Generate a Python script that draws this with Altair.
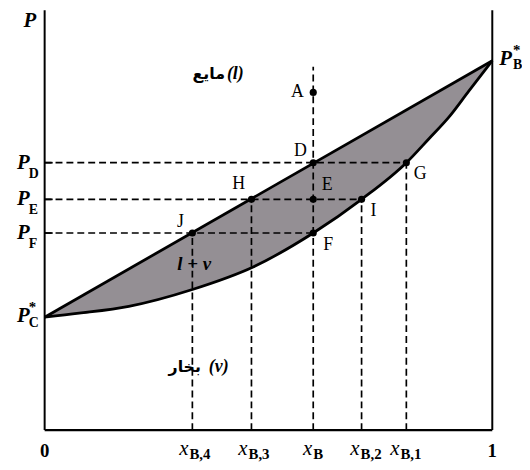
import altair as alt
import pandas as pd

# ---- values (x = mole fraction of B, P = pressure, arbitrary units) ----
P_TOP = 424
PC_STAR = 114
PB_STAR = 373

# liquid (bubble-point) line
liq_x = [0.0, 1.0]
liq_p = [PC_STAR, PB_STAR]

# vapour (dew-point) curve
vap_x = [0.0, 0.077, 0.188, 0.330, 0.467, 0.600, 0.708, 0.808, 0.858, 0.903, 0.947, 1.0]
vap_p = [114, 118, 125, 142, 165, 199, 233, 270, 294, 316, 342, 373]

# compositions on the x axis (vertical dashed lines)
comp_sub = ["B,4", "B,3", "B", "B,2", "B,1"]
comp_x = [0.330, 0.462, 0.600, 0.708, 0.808]
comp_top = [199, 233, 367, 233, 270]

# pressures on the y axis (horizontal dashed lines)
pres_sub = ["D", "E", "F"]
pres_p = [270, 233, 199]
pres_end = [0.808, 0.708, 0.600]

# marked points
pt_names = ["A", "D", "E", "F", "G", "H", "I", "J"]
pt_x = [0.600, 0.600, 0.600, 0.600, 0.808, 0.462, 0.708, 0.330]
pt_p = [341, 270, 233, 199, 270, 233, 233, 199]

SERIF = "Liberation Serif"
xs = alt.Scale(domain=[0, 1], nice=False, zero=False)
ys = alt.Scale(domain=[0, P_TOP], nice=False, zero=False)


def X(f="x"):
    return alt.X(f"{f}:Q", scale=xs, axis=None)


def Y(f="p"):
    return alt.Y(f"{f}:Q", scale=ys, axis=None)


def txt(x, p, text, dx=0, dy=0, size=18, style="normal", weight="normal",
        align="center", font=SERIF, baseline="alphabetic"):
    df = pd.DataFrame({"x": [x], "p": [p], "t": [text]})
    return alt.Chart(df).mark_text(
        dx=dx, dy=dy, fontSize=size, fontStyle=style, fontWeight=weight,
        align=align, font=font, baseline=baseline, color="black"
    ).encode(x=X(), y=Y(), text="t:N")


liq = pd.DataFrame({"x": liq_x, "p": liq_p})
vap = pd.DataFrame({"x": vap_x, "p": vap_p})

gray = alt.Chart(liq).mark_area(color="#948f94", opacity=1).encode(x=X(), y=Y())
white = alt.Chart(vap).mark_area(color="white", opacity=1, interpolate="monotone").encode(x=X(), y=Y())

vdf = pd.DataFrame({"x": comp_x, "p": [0] * len(comp_x), "p2": comp_top})
vlines = alt.Chart(vdf).mark_rule(color="black", strokeWidth=1.7, strokeDash=[7, 4]).encode(
    x=X(), y=Y(), y2="p2:Q")

hdf = pd.DataFrame({"x": [0] * len(pres_p), "x2": pres_end, "p": pres_p})
hlines = alt.Chart(hdf).mark_rule(color="black", strokeWidth=1.7, strokeDash=[7, 4]).encode(
    x=X(), x2="x2:Q", y=Y())
tdf = pd.DataFrame({"x": [0] * len(pres_p), "x2": [0.018] * len(pres_p), "p": pres_p})
ticks = alt.Chart(tdf).mark_rule(color="black", strokeWidth=1.7).encode(x=X(), x2="x2:Q", y=Y())

frame_v = pd.DataFrame({"x": [0, 1], "p": [0, 0], "p2": [P_TOP, P_TOP]})
fv = alt.Chart(frame_v).mark_rule(color="black", strokeWidth=2).encode(x=X(), y=Y(), y2="p2:Q")
frame_h = pd.DataFrame({"x": [0], "x2": [1], "p": [0]})
fh = alt.Chart(frame_h).mark_rule(color="black", strokeWidth=2.2).encode(x=X(), x2="x2:Q", y=Y())

liq_line = alt.Chart(liq).mark_line(color="black", strokeWidth=2.8).encode(x=X(), y=Y())
vap_line = alt.Chart(vap).mark_line(color="black", strokeWidth=2.8, interpolate="monotone").encode(x=X(), y=Y())

pts = pd.DataFrame({"x": pt_x, "p": pt_p, "n": pt_names})
dots = alt.Chart(pts).mark_circle(color="black", size=52, opacity=1).encode(x=X(), y=Y())

offsets = {"A": (-16, 0), "D": (-13, -12), "E": (14, -14), "F": (15, 12),
           "G": (14, 11), "H": (-13, -15), "I": (12, 12), "J": (-12, -11)}
layers = [gray, white, vlines, hlines, ticks, fv, fh, liq_line, vap_line, dots]

for n, x, p in zip(pt_names, pt_x, pt_p):
    dx, dy = offsets[n]
    layers.append(txt(x, p, n, dx=dx, dy=dy, size=18, baseline="middle"))

# y-axis labels P_D, P_E, P_F
for s, p in zip(pres_sub, pres_p):
    layers.append(txt(0, p, "P", dx=-15, dy=6, size=21, style="italic", weight="bold", align="right"))
    layers.append(txt(0, p, s, dx=-16, dy=15, size=14, weight="bold", align="left"))

# P_C*
layers.append(txt(0, PC_STAR, "P", dx=-15, dy=5, size=21, style="italic", weight="bold", align="right"))
layers.append(txt(0, PC_STAR, "*", dx=-16, dy=-5, size=15, weight="bold", align="left"))
layers.append(txt(0, PC_STAR, "C", dx=-16, dy=10, size=14, weight="bold", align="left"))
# P_B*
layers.append(txt(1, PB_STAR, "P", dx=7, dy=4, size=21, style="italic", weight="bold", align="left"))
layers.append(txt(1, PB_STAR, "*", dx=21, dy=-6, size=15, weight="bold", align="left"))
layers.append(txt(1, PB_STAR, "B", dx=21, dy=8, size=14, weight="bold", align="left"))
# top P
layers.append(txt(0, P_TOP, "P", dx=-15, dy=17, size=21, style="italic", weight="bold"))

# x axis labels
layers.append(txt(0, 0, "0", dx=0, dy=27, size=19, weight="bold"))
layers.append(txt(1, 0, "1", dx=0, dy=27, size=19, weight="bold"))
shift = {"B,4": -4, "B,3": -4, "B": -1, "B,2": -2, "B,1": -7}
for s, x in zip(comp_sub, comp_x):
    sh = shift[s]
    layers.append(txt(x, 0, "x", dx=sh, dy=25, size=21, style="italic", align="right"))
    layers.append(txt(x, 0, s, dx=sh + 1, dy=29, size=15, weight="bold", align="left"))

# region labels
layers.append(txt(0.405, 355, "مايع", dx=-1, dy=0, size=16, weight="bold", align="right", font="DejaVu Sans"))
layers.append(txt(0.405, 355, "(l)", dx=1, dy=0, size=18, style="italic", weight="bold", align="left"))
layers.append(txt(0.358, 59, "بخار", dx=-4, dy=0, size=16, weight="bold", align="right", font="DejaVu Sans"))
layers.append(txt(0.358, 59, "(v)", dx=4, dy=0, size=18, style="italic", weight="bold", align="left"))
layers.append(txt(0.334, 162, "l + v", dx=0, dy=0, size=19, style="italic", weight="bold"))

chart = alt.layer(*layers).properties(
    width=452, height=P_TOP,
    autosize=alt.AutoSizeParams(type="none"),
    padding={"left": 37, "top": 0, "right": 30, "bottom": 32},
).configure_view(stroke=None)

chart.save("out.html", embed_options={"renderer": "svg", "actions": False})
